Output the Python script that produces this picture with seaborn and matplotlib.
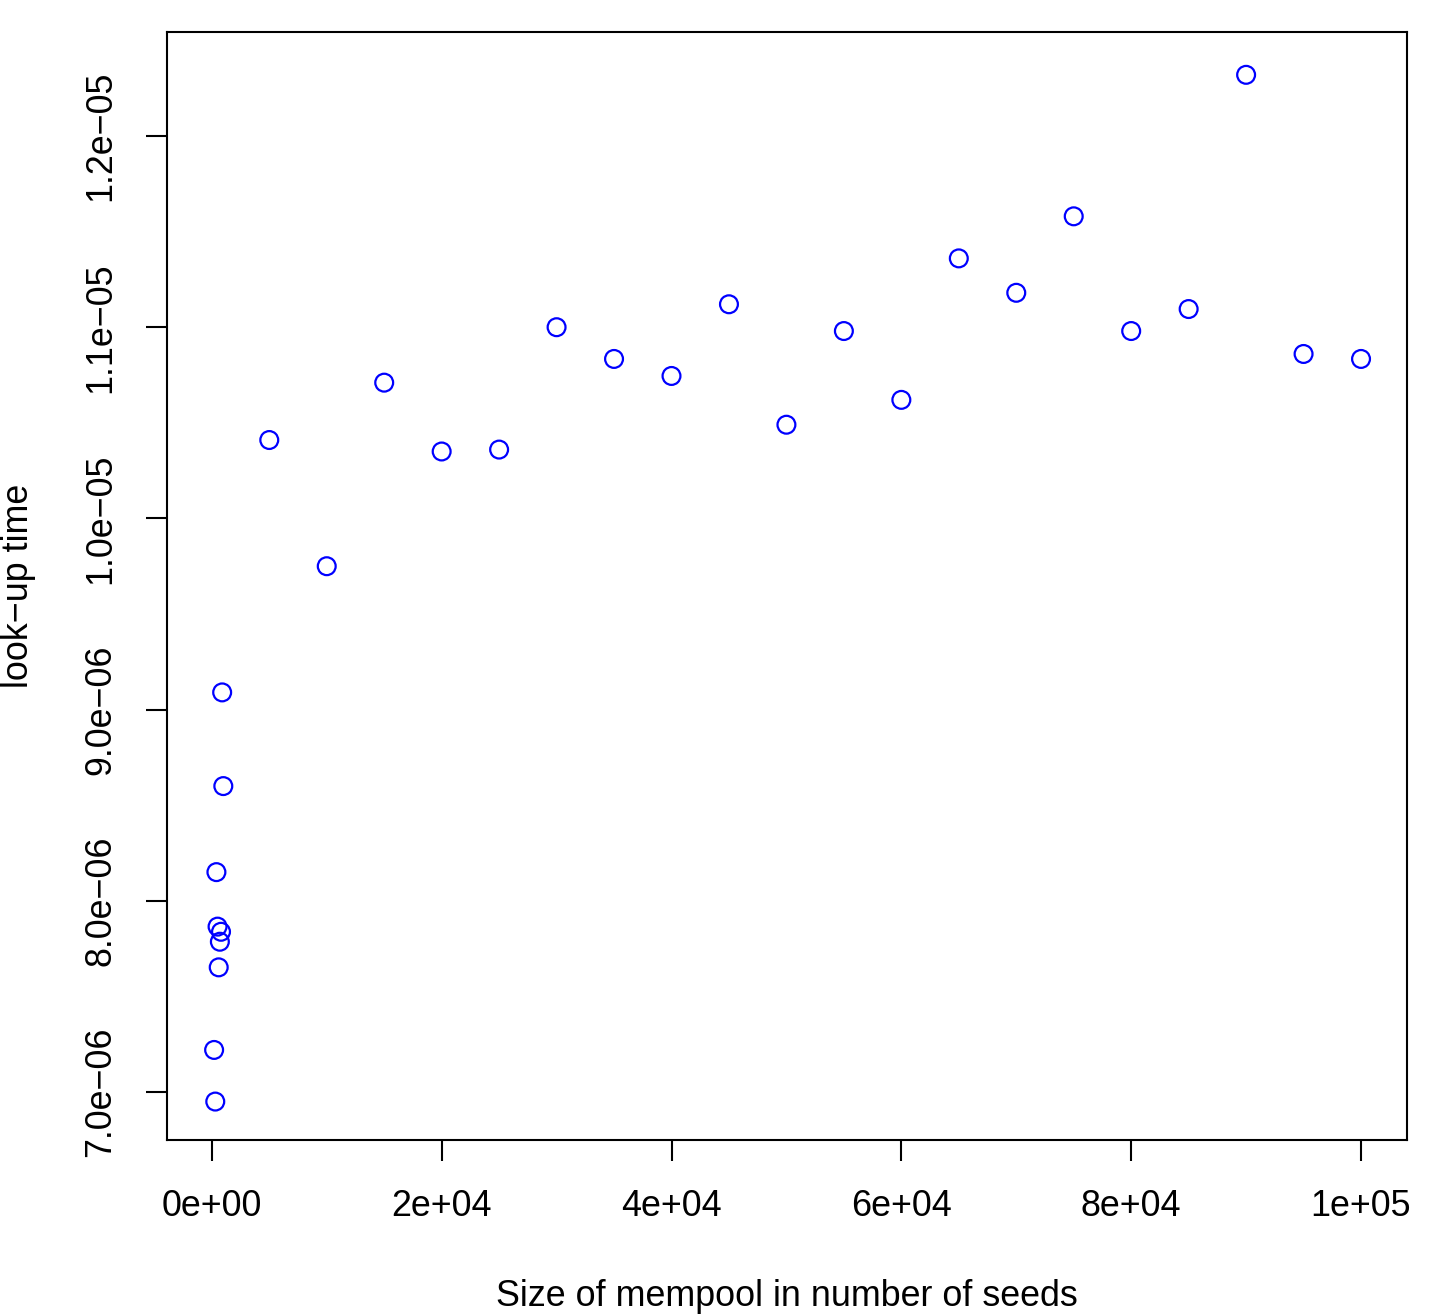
import matplotlib
matplotlib.use("Agg")
import matplotlib.pyplot as plt
import seaborn as sns
import pandas as pd

# Data
mempool_size = [200, 300, 400, 500, 600, 700, 800, 900, 1000,
                5000, 10000, 15000, 20000, 25000, 30000, 35000, 40000, 45000,
                50000, 55000, 60000, 65000, 70000, 75000, 80000, 85000, 90000,
                95000, 100000]
lookup_time_us = [7.22, 6.95, 8.15, 7.865, 7.652, 7.786, 7.838, 9.09, 8.60,
                  10.41, 9.75, 10.71, 10.35, 10.36, 11.00, 10.834, 10.745, 11.12,
                  10.49, 10.98, 10.62, 11.36, 11.18, 11.58, 10.98, 11.095, 12.32,
                  10.86, 10.834]
lookup_time = [v * 1e-6 for v in lookup_time_us]

x_ticks = [0, 20000, 40000, 60000, 80000, 100000]
x_tick_labels = ["0e+00", "2e+04", "4e+04", "6e+04", "8e+04", "1e+05"]
y_ticks = [7.0e-6, 8.0e-6, 9.0e-6, 1.0e-5, 1.1e-5, 1.2e-5]
y_tick_labels = ["7.0e\u221206", "8.0e\u221206", "9.0e\u221206",
                 "1.0e\u221205", "1.1e\u221205", "1.2e\u221205"]

df = pd.DataFrame({"size": mempool_size, "time": lookup_time})

sns.set_style("ticks")
plt.rcParams["font.family"] = ["Liberation Sans", "DejaVu Sans"]
plt.rcParams["text.color"] = "black"
plt.rcParams["axes.labelcolor"] = "black"
plt.rcParams["xtick.color"] = "black"
plt.rcParams["ytick.color"] = "black"

fs = 25.8

fig = plt.figure(figsize=(14.45, 13.16), dpi=100)
ax = fig.add_axes([167 / 1445, 1 - 1140 / 1316, (1407 - 167) / 1445, (1140 - 32) / 1316])

sns.scatterplot(data=df, x="size", y="time", ax=ax, marker="o", s=165,
                facecolors="none", edgecolors="#0000ff", linewidths=1.6, legend=False)

ax.set_xlim(-3900, 104000)
ax.set_ylim(6.749e-6, 12.544e-6)
ax.set_xticks(x_ticks)
ax.set_xticklabels(x_tick_labels, fontsize=fs, color="black")
ax.set_yticks(y_ticks)
ax.set_yticklabels(y_tick_labels, fontsize=fs, rotation=90, va="center", ha="right", color="black")

ax.tick_params(axis="both", direction="out", length=15, width=1.5, color="black", pad=20)

for sp in ax.spines.values():
    sp.set_visible(True)
    sp.set_linewidth(1.5)
    sp.set_color("black")

ax.set_xlabel("Size of mempool in number of seeds", fontsize=fs, labelpad=40, color="black")
ax.set_ylabel("look\u2212up time", fontsize=fs, labelpad=34, color="black")

fig.savefig("out.png", dpi=100, facecolor="white")
